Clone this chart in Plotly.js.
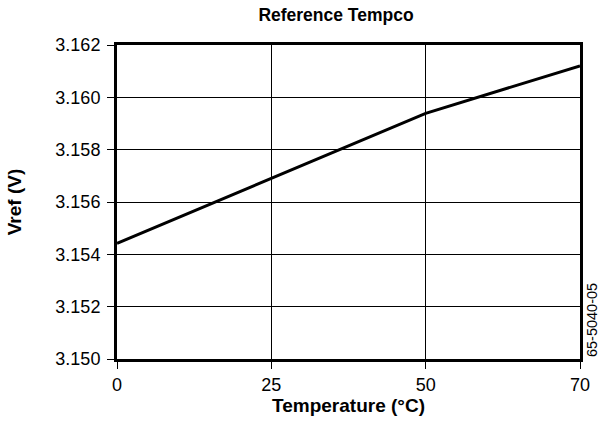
<!DOCTYPE html>
<html>
<head>
<meta charset="utf-8">
<script src="https://cdn.plot.ly/plotly-3.0.1.min.js"></script>
<style>html,body{margin:0;padding:0;background:#fff;}#chart{width:599px;height:429px;}</style>
</head>
<body>
<div id="chart"></div>
<script>
// Data
const temperatureLabels = ["0", "25", "50", "70"];
const vrefValues = [3.15442, 3.15690, 3.15939, 3.16120];
const yTickValues = [3.150, 3.152, 3.154, 3.156, 3.158, 3.160, 3.162];
const chartTitle = "Reference Tempco";
const xTitle = "Temperature (°C)";
const yTitle = "Vref (V)";
const figureCode = "65-5040-05";

const font = "Liberation Sans, Arial, sans-serif";

const trace = {
  x: temperatureLabels,
  y: vrefValues,
  type: "scatter",
  mode: "lines",
  line: {color: "#000", width: 3},
  hoverinfo: "skip"
};

const layout = {
  width: 599, height: 429,
  margin: {l: 117, r: 19, t: 45, b: 70},
  paper_bgcolor: "#fff", plot_bgcolor: "#fff",
  showlegend: false,
  font: {family: font, color: "#000", size: 17},
  title: {
    text: "<b>" + chartTitle + "</b>",
    font: {family: font, size: 17.5, color: "#000"},
    xref: "container", x: 0.561, xanchor: "center",
    yref: "container", y: 0.966, yanchor: "middle"
  },
  xaxis: {
    type: "category",
    range: [0, 3],
    tickvals: temperatureLabels,
    ticktext: temperatureLabels,
    showgrid: true, gridcolor: "#000", gridwidth: 1,
    showline: true, linecolor: "#000", linewidth: 3, mirror: true,
    ticks: "outside", ticklen: 7, tickwidth: 1, tickcolor: "#000",
    tickfont: {family: font, size: 18, color: "#000"},
    zeroline: false,
    title: {text: "<b>" + xTitle + "</b>", font: {family: font, size: 19, color: "#000"}, standoff: 6}
  },
  yaxis: {
    range: [3.150, 3.162],
    tickvals: yTickValues,
    tickformat: ".3f",
    showgrid: true, gridcolor: "#000", gridwidth: 1,
    showline: true, linecolor: "#000", linewidth: 3, mirror: true,
    ticks: "outside", ticklen: 7, tickwidth: 1, tickcolor: "#000",
    ticklabelstandoff: 3,
    tickfont: {family: font, size: 18, color: "#000"},
    zeroline: false,
    title: {text: "<b>" + yTitle + "</b>", font: {family: font, size: 19, color: "#000"}, standoff: 29}
  },
  annotations: [
    {
      text: figureCode,
      xref: "paper", yref: "paper",
      x: 1.026, y: 0.0,
      xanchor: "center", yanchor: "bottom",
      textangle: -90,
      showarrow: false,
      font: {family: font, size: 14.5, color: "#000"}
    }
  ]
};

Plotly.newPlot("chart", [trace], layout, {displayModeBar: false, staticPlot: true});
</script>
</body>
</html>
